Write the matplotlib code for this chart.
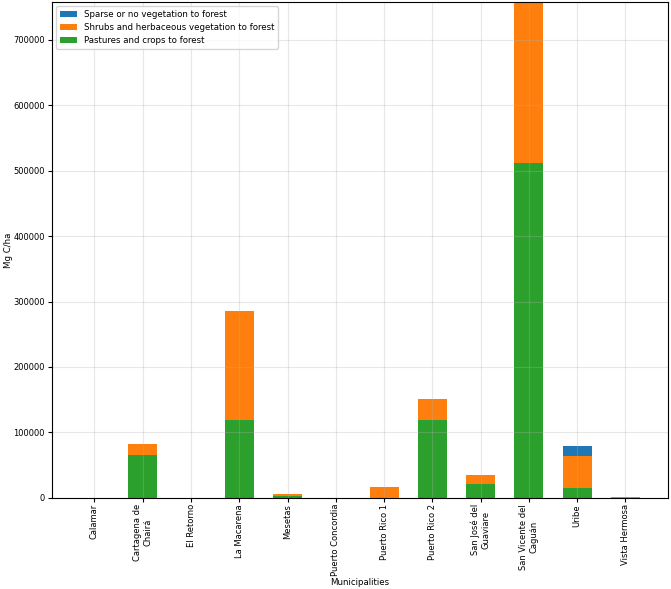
import numpy as np
import matplotlib
matplotlib.use("Agg")
import matplotlib.pyplot as plt

municipalities = ["Calamar", "Cartagena de\nChairá", "El Retorno", "La Macarena",
                  "Mesetas", "Puerto Concordia", "Puerto Rico 1", "Puerto Rico 2",
                  "San José del\nGuaviare", "San Vicente del\nCaguán", "Uribe",
                  "Vista Hermosa"]

pastures = [0, 66000, 0, 118500, 2500, 0, 0, 118500, 21000, 512000, 15000, 0]
shrubs = [0, 16500, 0, 167000, 3800, 0, 16800, 33000, 14000, 260000, 49000, 1500]
sparse = [0, 0, 0, 0, 0, 0, 0, 0, 0, 0, 15000, 0]

fig = plt.figure(figsize=(6.71, 5.89), dpi=100)
ax = fig.add_axes([0.0775, 0.155, 0.918, 0.8415])

x = np.arange(len(municipalities))
p = np.array(pastures)
s = np.array(shrubs)

b3 = ax.bar(x, pastures, width=0.6, color="tab:green")
b2 = ax.bar(x, shrubs, width=0.6, bottom=p, color="tab:orange")
b1 = ax.bar(x, sparse, width=0.6, bottom=p + s, color="tab:blue")

ax.set_ylim(0, 758000)
ax.set_xticks(x)
ax.set_xticklabels(municipalities, rotation=90, fontsize=6.0)
ax.tick_params(axis="x", pad=1.5, length=3)
ax.tick_params(axis="y", labelsize=6.0, length=3, pad=2)
ax.set_xlabel("Municipalities", fontsize=6.2)
ax.set_ylabel("Mg C/ha", fontsize=6.2)
ax.xaxis.set_label_coords(0.5, -0.161)
ax.yaxis.set_label_coords(-0.063, 0.5)
ax.grid(True, alpha=0.3)

ax.legend([b1, b2, b3],
          ["Sparse or no vegetation to forest",
           "Shrubs and herbaceous vegetation to forest",
           "Pastures and crops to forest"],
          loc="upper left", fontsize=6.2)

plt.savefig("out.png", dpi=100)
